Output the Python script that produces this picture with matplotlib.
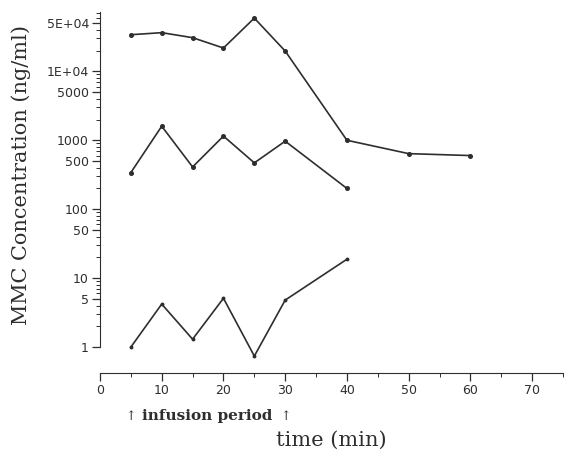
import numpy as np
import matplotlib
matplotlib.use("Agg")
import matplotlib.pyplot as plt
from matplotlib.ticker import FixedLocator, FixedFormatter, NullFormatter

# MMC concentration (ng/ml)
time_high = [5, 10, 15, 20, 25, 30, 40, 50, 60]
conc_high = [34000, 36400, 30800, 21800, 59200, 19700, 1000, 640, 600]

time_mid = [5, 10, 15, 20, 25, 30, 40]
conc_mid = [340, 1600, 410, 1150, 470, 970, 200]

time_low = [5, 10, 15, 20, 25, 30, 40]
conc_low = [1.0, 4.2, 1.3, 5.1, 0.74, 4.8, 18.8]

ytick_vals = [1, 5, 10, 50, 100, 500, 1000, 5000, 1e4, 5e4]
ytick_labels = ["1", "5", "10", "50", "100", "500", "1000", "5000", "1E+04", "5E+04"]
xtick_vals = [0, 10, 20, 30, 40, 50, 60, 70]

serif = ["DejaVu Serif"]

fig = plt.figure(figsize=(5.64, 4.65), dpi=100)
ax = fig.add_axes([0.1773, 0.1978, 0.8209, 0.7755])

col = "#2e2e2e"
for t, c, ms in [(time_high, conc_high, 2.6), (time_mid, conc_mid, 2.6), (time_low, conc_low, 1.8)]:
    ax.plot(t, c, color=col, lw=1.2, marker="o", ms=ms, mfc=col, mec=col)

ax.set_yscale("log")
ax.set_xlim(0, 75)
ax.set_ylim(0.42, 71600)

ax.spines["top"].set_visible(False)
ax.spines["right"].set_visible(False)
ax.spines["left"].set_bounds(1, 71600)
ax.spines["left"].set_color(col)
ax.spines["bottom"].set_color(col)

# minor ticks only along the drawn part of the y spine
minor_y = [m * 10.0 ** d for d in range(0, 5) for m in range(2, 10) if m * 10.0 ** d < 71600]

ax.yaxis.set_major_locator(FixedLocator(ytick_vals))
ax.yaxis.set_major_formatter(FixedFormatter(ytick_labels))
ax.yaxis.set_minor_locator(FixedLocator(minor_y))
ax.yaxis.set_minor_formatter(NullFormatter())

ax.set_xticks(xtick_vals)
ax.set_xticks(np.arange(5, 76, 10), minor=True)

ax.tick_params(axis="both", which="major", direction="out", length=6, width=0.9,
               colors=col, labelsize=9, pad=2)
ax.tick_params(axis="both", which="minor", direction="out", length=3, width=0.7, colors=col)

ax.set_ylabel("MMC Concentration (ng/ml)", fontsize=15, family=serif, color=col)
ax.yaxis.set_label_coords(-0.15, 0.55)
ax.set_xlabel("time (min)", fontsize=15, family=serif, color=col, labelpad=24)

xt = ax.get_xaxis_transform()
ax.text(5, -0.12, "↑", transform=xt, ha="center", va="center",
        fontsize=9, family=serif, color=col)
ax.text(17.4, -0.12, "infusion period", transform=xt, ha="center",
        va="center", fontsize=11, fontweight="bold", family=serif, color=col)
ax.text(30, -0.12, "↑", transform=xt, ha="center", va="center",
        fontsize=9, family=serif, color=col)

fig.savefig("out.png", dpi=100, facecolor="white")
